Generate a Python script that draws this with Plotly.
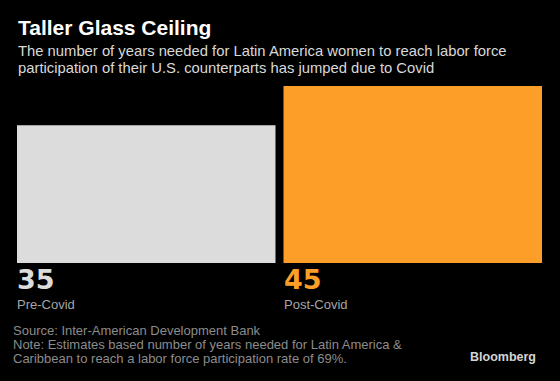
import plotly.graph_objects as go

categories = ["Pre-Covid", "Post-Covid"]
values = [35, 45]
value_labels = ["35", "45"]
bar_colors = ["#dcdcdc", "#fd9e28"]
label_colors = ["#dcdcdc", "#fd9e28"]

title = "Taller Glass Ceiling"
subtitle_lines = ["The number of years needed for Latin America women to reach labor force",
                  "participation of their U.S. counterparts has jumped due to Covid"]
source_lines = ["Source: Inter-American Development Bank",
                "Note: Estimates based number of years needed for Latin America &amp;",
                "Caribbean to reach a labor force participation rate of 69%."]

W, H = 560, 381
ML, MR, MT, MB = 13, 14, 86, 118
PW = W - ML - MR
PH = H - MT - MB
BARGAP = 0.03


def px(X):
    return (X - ML) / PW


def py(Y):
    return (H - MB - Y) / PH


FONT = "Liberation Sans"

fig = go.Figure(go.Bar(
    x=list(range(len(categories))),
    y=values,
    marker=dict(color=bar_colors, line=dict(width=0)),
    hoverinfo="skip",
))

ann = []
ann.append(dict(text="<b>" + title + "</b>", x=px(16), y=py(28), xref="paper", yref="paper",
                xanchor="left", yanchor="middle", showarrow=False,
                font=dict(family=FONT, size=21, color="#ffffff")))
for k, line in enumerate(subtitle_lines):
    ann.append(dict(text=line, x=px(16), y=py(51 + 17 * k), xref="paper", yref="paper",
                    xanchor="left", yanchor="middle", showarrow=False, align="left",
                    font=dict(family=FONT, size=14.8, color="#d9d9d9")))
for i, (cat, lab) in enumerate(zip(categories, value_labels)):
    left = i - (1 - BARGAP) / 2
    ann.append(dict(text="<b>" + lab + "</b>", x=left, y=py(279), xref="x", yref="paper",
                    xanchor="left", yanchor="middle", showarrow=False, xshift=-2,
                    font=dict(family="DejaVu Sans", size=27, color=label_colors[i])))
    ann.append(dict(text=cat, x=left, y=py(304), xref="x", yref="paper",
                    xanchor="left", yanchor="middle", showarrow=False, xshift=-2,
                    font=dict(family=FONT, size=13, color="#a6a6a6")))
for k, line in enumerate(source_lines):
    ann.append(dict(text=line, x=px(11), y=py(330 + 14 * k), xref="paper", yref="paper",
                    xanchor="left", yanchor="middle", showarrow=False, align="left",
                    font=dict(family=FONT, size=13, color="#8c8c8c")))
ann.append(dict(text="<b>Bloomberg</b>", x=px(538), y=py(357), xref="paper", yref="paper",
                xanchor="right", yanchor="middle", showarrow=False,
                font=dict(family=FONT, size=12.5, color="#d4d4d4")))

fig.update_layout(
    width=W, height=H,
    margin=dict(l=ML, r=MR, t=MT, b=MB, pad=0),
    paper_bgcolor="#000000", plot_bgcolor="#000000",
    bargap=BARGAP,
    showlegend=False,
    xaxis=dict(range=[-0.5, len(categories) - 0.5], visible=False, fixedrange=True),
    yaxis=dict(range=[0, max(values)], visible=False, fixedrange=True),
    annotations=ann,
)

fig.write_html("out.html", config={"displayModeBar": False},
               post_script="document.body.style.margin='0';document.body.style.background='#000';")
